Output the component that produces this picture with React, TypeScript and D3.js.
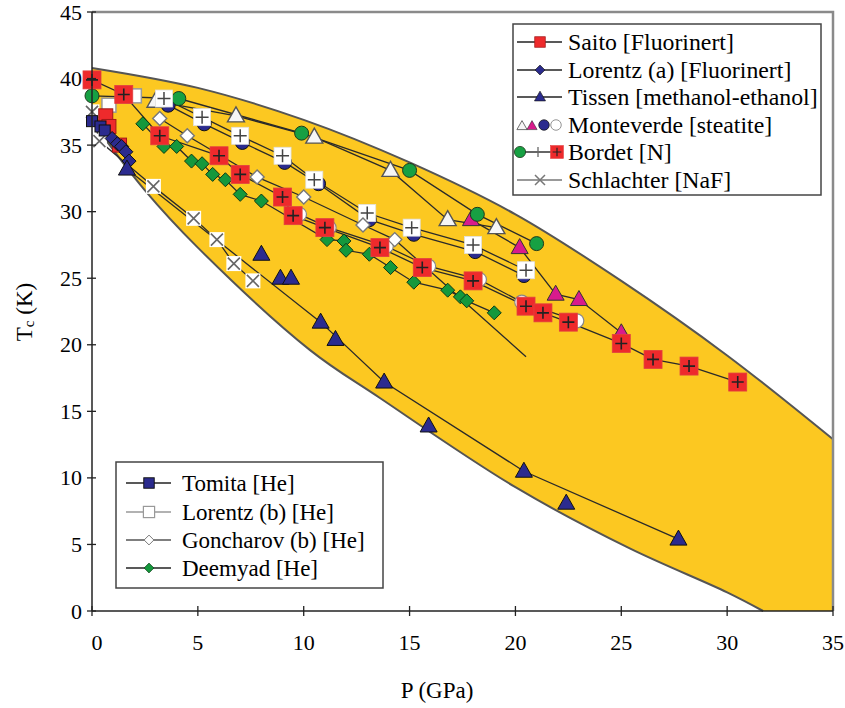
import React from 'react';
import * as d3 from 'd3';

// axis ticks
const xTicks = [0, 5, 10, 15, 20, 25, 30, 35];
const yTicks = [0, 5, 10, 15, 20, 25, 30, 35, 40, 45];

// yellow band edges [P, Tc]
const bandUpper = [[0, 40.8], [5, 39.3], [10, 36.9], [15, 33.7], [20, 29.8], [25, 24.8], [30, 19.2], [35, 12.9]];
const bandLower = [[0, 36.8], [2.5, 31.6], [5, 27.3], [10.3, 19.6], [13.6, 16.0], [20, 9.3], [25.4, 4.7], [30, 1.4], [31.7, 0]];

// series (pressure in GPa, Tc in K)
const saitoP = [0.65, 0.8, 1.3];
const saitoT = [37.2, 36.4, 35.0];
const lorentzAP = [0.95, 1.2, 1.4, 1.6, 1.75];
const lorentzAT = [35.5, 35.1, 34.9, 34.5, 33.8];
const tissenP = [1.65, 10.8, 13.8, 20.4, 27.7];
const tissenT = [33.2, 21.7, 17.2, 10.5, 5.4];
const tissenLooseP = [8.0, 8.9, 9.4, 11.5, 15.9, 22.4];
const tissenLooseT = [26.8, 25.0, 25.0, 20.4, 13.9, 8.1];
const mvWhiteTriP = [3.0, 6.8, 10.5, 14.1, 16.8, 19.1];
const mvWhiteTriT = [38.3, 37.2, 35.6, 33.1, 29.4, 28.8];
const mvMagTriP = [17.9, 20.2, 21.9, 23.0, 25.0];
const mvMagTriT = [29.4, 27.3, 23.8, 23.4, 20.9];
const mvBlueCircP = [3.6, 5.3, 7.1, 9.1, 10.7, 13.1, 15.2, 18.1, 20.4];
const mvBlueCircT = [38.0, 36.6, 35.2, 33.7, 32.1, 29.4, 28.3, 27.0, 25.2];
const mvWhiteCircP = [9.8, 11.2, 13.9, 15.9, 18.3, 20.3, 22.9];
const mvWhiteCircT = [29.8, 28.8, 27.4, 25.9, 24.9, 23.2, 21.8];
const bordetGreenP = [0, 4.1, 9.9, 15.0, 18.2, 21.0];
const bordetGreenT = [38.7, 38.5, 35.9, 33.1, 29.8, 27.6];
const bordetWhiteP = [3.4, 5.2, 7.0, 9.0, 10.5, 13.0, 15.1, 18.0, 20.5];
const bordetWhiteT = [38.5, 37.1, 35.7, 34.2, 32.4, 29.9, 28.8, 27.5, 25.6];
const bordetRedP = [0, 1.5, 3.2, 6.0, 7.0, 9.0, 9.5, 11.0, 13.6, 15.6, 18.0, 20.5, 21.3, 22.5, 25.0, 26.5, 28.2, 30.5];
const bordetRedT = [39.9, 38.8, 35.7, 34.2, 32.8, 31.1, 29.7, 28.8, 27.3, 25.8, 24.8, 22.9, 22.4, 21.7, 20.1, 18.9, 18.4, 17.2];
const schlachterP = [0, 0.35, 2.9, 4.8, 5.9, 6.7, 7.6];
const schlachterT = [37.5, 35.3, 31.9, 29.5, 27.9, 26.1, 24.8];
const tomitaP = [0, 0.4, 0.6];
const tomitaT = [36.8, 36.4, 36.1];
const lorentzBP = [0.8, 2.0];
const lorentzBT = [38.0, 38.7];
const goncharovP = [3.2, 4.5, 7.8, 10.0, 12.8, 14.3, 20.5];
const goncharovT = [37.0, 35.7, 32.6, 31.1, 29.0, 27.9, 19.1];
const deemyadP = [2.4, 3.4, 4.0, 4.7, 5.2, 5.7, 6.3, 7.0, 8.0, 11.1, 11.9, 12.0, 13.1, 14.1, 15.2, 16.8, 17.4, 17.7, 19.0];
const deemyadT = [36.6, 34.9, 34.9, 33.8, 33.6, 32.8, 32.4, 31.3, 30.8, 27.9, 27.8, 27.1, 26.8, 25.8, 24.7, 24.1, 23.6, 23.3, 22.4];

const topLegend = ['Saito [Fluorinert]', 'Lorentz (a) [Fluorinert]', 'Tissen [methanol-ethanol]', 'Monteverde [steatite]', 'Bordet [N]', 'Schlachter [NaF]'];
const bottomLegend = ['Tomita [He]', 'Lorentz (b) [He]', 'Goncharov (b) [He]', 'Deemyad [He]'];

const x = d3.scaleLinear().domain([0, 35]).range([92, 833]);
const y = d3.scaleLinear().domain([0, 45]).range([611, 12]);

const FONT = 'Liberation Serif';
const YELLOW = '#fcc821';

function Marker({ type, cx, cy, s = 1 }: { type: string; cx: number; cy: number; s?: number }) {
  const t = `translate(${cx},${cy}) scale(${s})`;
  switch (type) {
    case 'redPlus':
      return (
        <g transform={t}>
          <rect x={-9} y={-9} width={18} height={18} fill="#ee2a2c" stroke="#e04040" strokeWidth={0.8} />
          <path d="M-6,0H6M0,-6V6" stroke="#222" strokeWidth={1.6} />
        </g>
      );
    case 'redSq':
      return <rect transform={t} x={-7} y={-7} width={14} height={14} fill="#ee2a2c" stroke="#a01818" strokeWidth={1} />;
    case 'whitePlus':
      return (
        <g transform={t}>
          <rect x={-8.5} y={-8.5} width={17} height={17} fill="#fff" stroke="#e0e0e0" strokeWidth={0.8} />
          <path d="M-6.5,0H6.5M0,-6.5V6.5" stroke="#444" strokeWidth={1.5} />
        </g>
      );
    case 'whiteSq':
      return <rect transform={t} x={-7} y={-7} width={14} height={14} fill="#fff" stroke="#999" strokeWidth={1.5} />;
    case 'greenCircle':
      return <circle transform={t} r={7} fill="#17a043" stroke="#1d3a1d" strokeWidth={1} />;
    case 'greenDiamond':
      return <path transform={t} d="M0,-7L7,0L0,7L-7,0Z" fill="#14983c" stroke="#0d3a16" strokeWidth={1} />;
    case 'whiteDiamond':
      return <path transform={t} d="M0,-7L7,0L0,7L-7,0Z" fill="#fff" stroke="#777" strokeWidth={1.4} />;
    case 'blueDiamond':
      return <path transform={t} d="M0,-7L7,0L0,7L-7,0Z" fill="#2b2b8e" stroke="#111" strokeWidth={1} />;
    case 'blueSq':
      return <rect transform={t} x={-5.5} y={-5.5} width={11} height={11} fill="#2b2b8e" stroke="#111" strokeWidth={1} />;
    case 'blueTri':
      return <path transform={t} d="M0,-9L8.5,6L-8.5,6Z" fill="#2b2b8f" stroke="#111" strokeWidth={1} />;
    case 'magentaTri':
      return <path transform={t} d="M0,-9L8.5,6L-8.5,6Z" fill="#d81b8c" stroke="#333" strokeWidth={1} />;
    case 'whiteTri':
      return <path transform={t} d="M0,-9L8.5,6L-8.5,6Z" fill="#f6f6f6" stroke="#555" strokeWidth={1.4} />;
    case 'blueCircle':
      return <circle transform={t} r={7} fill="#2b2b8e" stroke="#111" strokeWidth={1} />;
    case 'whiteCircle':
      return <circle transform={t} r={7} fill="#fff" stroke="#888" strokeWidth={1.2} />;
    case 'xMark':
      return (
        <g transform={t}>
          <rect x={-7.5} y={-7.5} width={15} height={15} fill="#fff" />
          <path d="M-6,-6L6,6M-6,6L6,-6" stroke="#666" strokeWidth={1.6} />
        </g>
      );
    default:
      return null;
  }
}

const zip = (ps: number[], ts: number[]) => ps.map((p, i) => [p, ts[i]] as [number, number]);

const line = d3.line<[number, number]>().x((d) => x(d[0])).y((d) => y(d[1]));
const smooth = d3.line<number[]>().x((d) => x(d[0])).y((d) => y(d[1])).curve(d3.curveCatmullRom.alpha(0.5));

// series: lines + markers, in drawing order
const series = [
  { pts: zip(mvBlueCircP, mvBlueCircT), m: 'blueCircle', line: true },
  { pts: zip(mvWhiteCircP, mvWhiteCircT), m: 'whiteCircle', line: true },
  { pts: zip(mvWhiteTriP, mvWhiteTriT), m: 'whiteTri', line: true },
  { pts: zip(mvMagTriP, mvMagTriT), m: 'magentaTri', line: true },
  { pts: zip(bordetGreenP, bordetGreenT), m: 'greenCircle', line: true },
  { pts: zip(bordetWhiteP, bordetWhiteT), m: 'whitePlus', line: true },
  { pts: zip(lorentzBP, lorentzBT), m: 'whiteSq', line: true },
  { pts: zip(goncharovP, goncharovT), m: 'whiteDiamond', line: true, skipLast: true },
  { pts: zip(deemyadP, deemyadT), m: 'greenDiamond', line: true },
  { pts: zip(schlachterP, schlachterT), m: 'xMark', line: true },
  { pts: zip(saitoP, saitoT), m: 'redSq', line: true },
  { pts: zip(tomitaP, tomitaT), m: 'blueSq', line: true },
  { pts: zip(lorentzAP, lorentzAT), m: 'blueDiamond', line: true },
  { pts: zip(tissenP, tissenT), m: 'blueTri', line: true },
  { pts: zip(tissenLooseP, tissenLooseT), m: 'blueTri', line: false },
  { pts: zip(bordetRedP, bordetRedT), m: 'redPlus', line: true },
];

function LegendSymbol({ row, cx, cy }: { row: string; cx: number; cy: number }) {
  const seg = (c: string) => <line x1={cx - 23} x2={cx + 22} y1={cy} y2={cy} stroke={c} strokeWidth={1.3} />;
  if (row === 'Monteverde') {
    return (
      <g>
        <Marker type="whiteTri" cx={cx - 18} cy={cy + 1} s={0.6} />
        <Marker type="magentaTri" cx={cx - 8} cy={cy + 1} s={0.6} />
        <Marker type="blueCircle" cx={cx + 4} cy={cy} s={0.75} />
        <Marker type="whiteCircle" cx={cx + 16} cy={cy} s={0.75} />
      </g>
    );
  }
  if (row === 'Bordet') {
    return (
      <g>
        {seg('#333')}
        <Marker type="greenCircle" cx={cx - 20} cy={cy} s={0.8} />
        <line x1={cx - 2} x2={cx - 2} y1={cy - 5} y2={cy + 5} stroke="#666" strokeWidth={1.3} />
        <Marker type="redPlus" cx={cx + 17} cy={cy} s={0.72} />
      </g>
    );
  }
  const map: Record<string, [string, string, number]> = {
    Saito: ['#222', 'redSq', 0.75],
    LorentzA: ['#222', 'blueDiamond', 0.7],
    Tissen: ['#222', 'blueTri', 0.65],
    Schlachter: ['#777', 'x', 1],
    Tomita: ['#222', 'blueSq', 0.95],
    LorentzB: ['#999', 'whiteSq', 0.8],
    Goncharov: ['#555', 'whiteDiamond', 0.7],
    Deemyad: ['#222', 'greenDiamond', 0.7],
  };
  const [c, m, s] = map[row];
  return (
    <g>
      {seg(c)}
      {m === 'x' ? (
        <path d={`M${cx - 5},${cy - 5}L${cx + 5},${cy + 5}M${cx - 5},${cy + 5}L${cx + 5},${cy - 5}`} stroke="#777" strokeWidth={1.5} />
      ) : (
        <Marker type={m} cx={cx} cy={cy} s={s} />
      )}
    </g>
  );
}

export default function App() {
  const upperStr = smooth(bandUpper) as string;
  const lowerRev = smooth([...bandLower].reverse()) as string;
  const bandPath =
    upperStr + `L${x(35)},${y(0)}` + lowerRev.replace(/^M/, 'L') + 'Z';

  const topKeys = ['Saito', 'LorentzA', 'Tissen', 'Monteverde', 'Bordet', 'Schlachter'];
  const bottomKeys = ['Tomita', 'LorentzB', 'Goncharov', 'Deemyad'];
  const topRowY = [42, 70, 97, 125, 152, 180];
  const bottomRowY = [483, 512, 540, 568];

  return (
    <svg width={845} height={708} style={{ position: 'absolute', left: 0, top: 0, background: '#fff' }}>
      {/* band */}
      <path d={bandPath} fill={YELLOW} />
      <path d={upperStr} fill="none" stroke="#555" strokeWidth={2} />
      <path d={smooth(bandLower) as string} fill="none" stroke="#555" strokeWidth={2} />

      {/* frame */}
      <path d={`M${x(0)},${y(45)}H${x(35)}V${y(0)}`} fill="none" stroke="#8a8a8a" strokeWidth={2.5} />

      {/* series lines */}
      {series.filter((s) => s.line).map((s, i) => (
        <path key={'l' + i} d={line(s.pts) as string} fill="none" stroke="#2a2a2a" strokeWidth={1.3} />
      ))}

      {/* markers */}
      {series.map((s, i) =>
        (s.skipLast ? s.pts.slice(0, -1) : s.pts).map((d, j) => (
          <Marker key={`m${i}-${j}`} type={s.m} cx={x(d[0])} cy={y(d[1])} />
        ))
      )}

      {/* axes */}
      <line x1={x(0)} x2={x(0)} y1={y(45)} y2={y(0)} stroke="#222" strokeWidth={1.5} />
      <line x1={x(0)} x2={x(35)} y1={y(0)} y2={y(0)} stroke="#222" strokeWidth={1.5} />
      {yTicks.map((t) => (
        <g key={'yt' + t}>
          <line x1={x(0) - 5} x2={x(0) + 4} y1={y(t)} y2={y(t)} stroke="#222" strokeWidth={1.3} />
          <text fontFamily={FONT} x={82} y={y(t)} textAnchor="end" dominantBaseline="central" fontSize={22}>{t}</text>
        </g>
      ))}
      {xTicks.map((t) => (
        <g key={'xt' + t}>
          <line x1={x(t)} x2={x(t)} y1={y(0) - 5} y2={y(0) + 5} stroke="#222" strokeWidth={1.3} />
          <text fontFamily={FONT} x={x(t) + (t === 0 ? 5 : 0)} y={642} textAnchor="middle" dominantBaseline="central" fontSize={22}>{t}</text>
        </g>
      ))}
      <text fontFamily={FONT} x={437} y={690} textAnchor="middle" dominantBaseline="central" fontSize={23}>P (GPa)</text>
      <text fontFamily={FONT} transform="translate(24,312) rotate(-90)" textAnchor="middle" dominantBaseline="central" fontSize={23}>
        T<tspan fontSize={15} dy={5}>c</tspan><tspan dy={-5}> (K)</tspan>
      </text>

      {/* top legend */}
      <rect x={513} y={24} width={308} height={171} fill="#fff" stroke="#444" strokeWidth={1.5} />
      {topLegend.map((label, i) => (
        <g key={'tl' + i}>
          <LegendSymbol row={topKeys[i]} cx={540} cy={topRowY[i]} />
          <text fontFamily={FONT} x={568} y={topRowY[i]} dominantBaseline="central" fontSize={23.8}>{label}</text>
        </g>
      ))}

      {/* bottom legend */}
      <rect x={116} y={462} width={267} height={126} fill="#fff" stroke="#444" strokeWidth={1.5} />
      {bottomLegend.map((label, i) => (
        <g key={'bl' + i}>
          <LegendSymbol row={bottomKeys[i]} cx={149} cy={bottomRowY[i]} />
          <text fontFamily={FONT} x={182} y={bottomRowY[i]} dominantBaseline="central" fontSize={23}>{label}</text>
        </g>
      ))}
    </svg>
  );
}
